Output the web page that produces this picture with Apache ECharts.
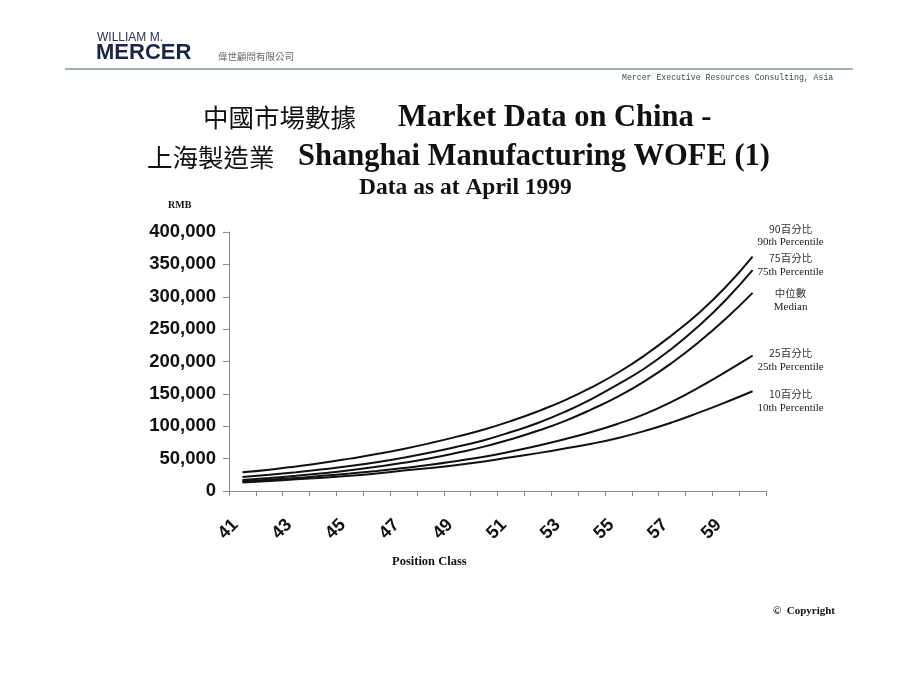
<!DOCTYPE html>
<html>
<head>
<meta charset="utf-8">
<title>Market Data on China - Shanghai Manufacturing WOFE (1)</title>
<script src="https://cdn.jsdelivr.net/npm/echarts@6/dist/echarts.min.js"></script>
<style>
  html, body { margin: 0; padding: 0; background: #fff; }
  #chart { width: 920px; height: 690px; }
</style>
</head>
<body>
<div id="chart"></div>
<script>
// position classes 41..60
const positionClasses = ['41', '42', '43', '44', '45', '46', '47', '48', '49', '50',
  '51', '52', '53', '54', '55', '56', '57', '58', '59', '60'];

// RMB
const p90 = [29000, 33000, 38000, 43500, 50000, 57000, 65000, 74000, 84000, 95000,
  108000, 123000, 140000, 160000, 183000, 210000, 241000, 275000, 315000, 362000];
const p75 = [21500, 25000, 29000, 33500, 38500, 44500, 51500, 59500, 68500, 78500,
  91000, 105000, 122000, 142000, 165000, 190000, 220000, 255000, 295000, 341000];
const median = [17000, 20000, 23500, 27500, 32000, 37500, 43500, 50500, 59000, 68500,
  80000, 93000, 108000, 126000, 146000, 170000, 198000, 230000, 266000, 306000];
const p25 = [15000, 17500, 20000, 23500, 27000, 31000, 35500, 40500, 46500, 53000,
  61000, 70000, 80000, 91000, 104000, 119000, 138000, 160000, 184000, 209000];
const p10 = [13000, 15500, 18000, 20500, 23500, 27000, 31500, 35500, 40000, 45500,
  52000, 58500, 65500, 73000, 82000, 93000, 106000, 121000, 137000, 154000];

const seriesNames = ['90百分比', '75百分比', '中位數', '25百分比', '10百分比'];
const seriesNamesEn = ['90th Percentile', '75th Percentile', 'Median', '25th Percentile', '10th Percentile'];

const chart = echarts.init(document.getElementById('chart'));

const serif = 'Liberation Serif';
const cjk = 'Noto Sans CJK TC';

// label offsets so the text sits beside each line end
const labelDy = [-21, -5, 7, 4, 10];

const makeSeries = (idx, values) => ({
  name: seriesNames[idx],
  type: 'line',
  data: values,
  smooth: true,
  symbol: 'none',
  lineStyle: { color: '#111', width: 2 },
  endLabel: {
    show: true,
    distance: 38,
    offset: [0, labelDy[idx]],
    align: 'center',
    verticalAlign: 'middle',
    formatter: () => '{cn|' + seriesNames[idx] + '}\n{en|' + seriesNamesEn[idx] + '}',
    rich: {
      cn: { fontFamily: cjk + ', ' + serif, fontSize: 10.5, color: '#333', lineHeight: 14, align: 'center' },
      en: { fontFamily: serif, fontSize: 11, color: '#222', lineHeight: 14, align: 'center' }
    }
  }
});

const option = {
  backgroundColor: '#fff',
  animation: false,
  title: [
    { text: 'WILLIAM M.', left: 97, top: 32, padding: 0, textStyle: { fontFamily: 'Liberation Sans', fontWeight: 'normal', fontSize: 12, color: '#26305a' } },
    { text: 'MERCER', left: 96, top: 42, padding: 0, textStyle: { fontFamily: 'Liberation Sans Narrow, Liberation Sans', fontWeight: 'bold', fontSize: 22, color: '#1c2448' } },
    { text: '偉世顧問有限公司', left: 218, top: 52, padding: 0, textStyle: { fontFamily: cjk, fontWeight: 'normal', fontSize: 9.5, color: '#666' } },
    { text: 'Mercer Executive Resources Consulting, Asia', left: 622, top: 74, padding: 0, textStyle: { fontFamily: 'Liberation Mono', fontWeight: 'normal', fontSize: 8.2, color: '#444' } },

    { text: '中國市場數據', left: 203, top: 105, padding: 0, textStyle: { fontFamily: cjk, fontWeight: 'normal', fontSize: 25.5, color: '#111' } },
    { text: 'Market Data on China -', left: 398, top: 103, padding: 0, textStyle: { fontFamily: serif, fontWeight: 'bold', fontSize: 30.5, color: '#111' } },
    { text: '上海製造業', left: 147, top: 145, padding: 0, textStyle: { fontFamily: cjk, fontWeight: 'normal', fontSize: 25.5, color: '#111' } },
    { text: 'Shanghai Manufacturing WOFE (1)', left: 298, top: 142, padding: 0, textStyle: { fontFamily: serif, fontWeight: 'bold', fontSize: 30.5, color: '#111' } },
    { text: 'Data as at April 1999', left: 359, top: 176, padding: 0, textStyle: { fontFamily: serif, fontWeight: 'bold', fontSize: 23.5, color: '#111' } },

    { text: 'RMB', left: 168, top: 200, padding: 0, textStyle: { fontFamily: serif, fontWeight: 'bold', fontSize: 10, color: '#111' } },
    { text: 'Position Class', left: 392, top: 555, padding: 0, textStyle: { fontFamily: serif, fontWeight: 'bold', fontSize: 12.5, color: '#111' } },
    { text: '©  Copyright', left: 773, top: 606, padding: 0, textStyle: { fontFamily: serif, fontWeight: 'bold', fontSize: 11, color: '#111' } }
  ],
  graphic: [
    {
      type: 'line',
      shape: { x1: 65, y1: 69, x2: 853, y2: 69 },
      style: { stroke: '#7f9c9c', lineWidth: 1.5 }
    }
  ],
  grid: { left: 229, top: 232, width: 537, height: 259 },
  xAxis: {
    type: 'category',
    data: positionClasses,
    boundaryGap: true,
    axisLine: { lineStyle: { color: '#8a8a8a', width: 1 } },
    axisTick: { show: true, interval: 0, length: 5, lineStyle: { color: '#8a8a8a' } },
    axisLabel: {
      interval: 1,
      rotate: 45,
      margin: 24,
      padding: [0, 10, 0, 0],
      fontFamily: 'Liberation Sans',
      fontWeight: 'bold',
      fontSize: 18,
      color: '#111'
    },
    splitLine: { show: false }
  },
  yAxis: {
    type: 'value',
    min: 0,
    max: 400000,
    interval: 50000,
    axisLine: { show: true, lineStyle: { color: '#8a8a8a', width: 1 } },
    axisTick: { show: true, length: 6, lineStyle: { color: '#8a8a8a' } },
    axisLabel: {
      margin: 13,
      fontFamily: 'Liberation Sans',
      fontWeight: 'bold',
      fontSize: 18.5,
      color: '#111',
      formatter: v => v.toString().replace(/\B(?=(\d{3})+(?!\d))/g, ',')
    },
    splitLine: { show: false }
  },
  series: [
    makeSeries(0, p90),
    makeSeries(1, p75),
    makeSeries(2, median),
    makeSeries(3, p25),
    makeSeries(4, p10)
  ]
};

option && chart.setOption(option);
</script>
</body>
</html>
